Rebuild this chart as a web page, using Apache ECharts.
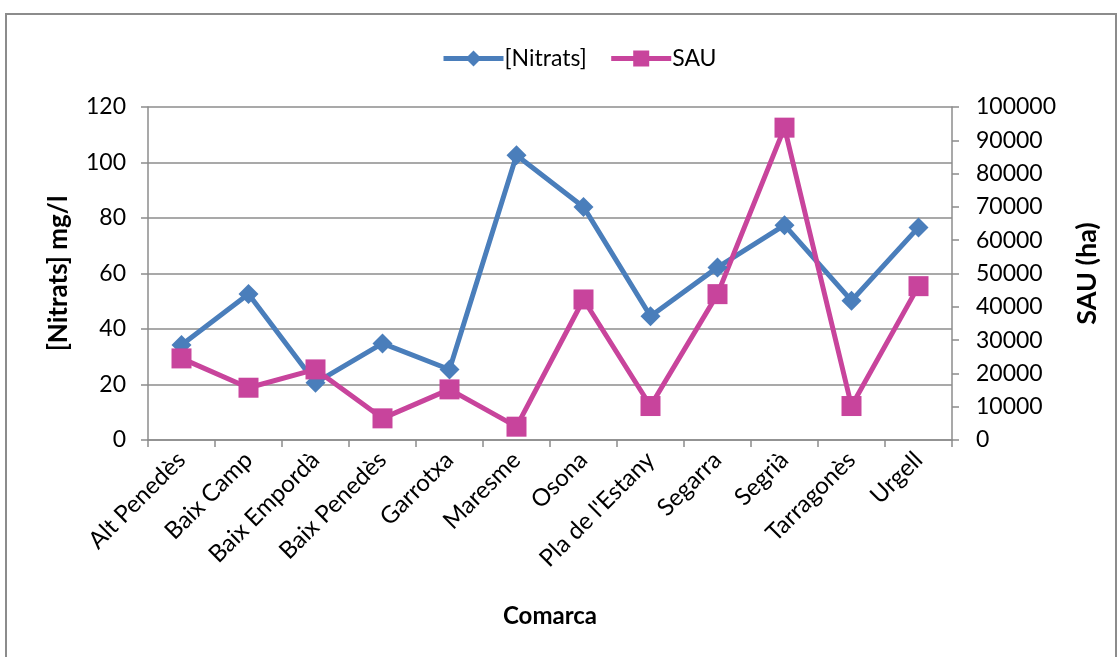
<!DOCTYPE html>
<html>
<head>
<meta charset="utf-8">
<script src="https://cdn.jsdelivr.net/npm/echarts@6/dist/echarts.min.js"></script>
<style>
html,body{margin:0;padding:0;background:#fff;}
#frame{position:absolute;left:5px;top:13px;width:1112px;height:650px;border:2px solid #8c8c8c;box-sizing:border-box;}
#chart{position:absolute;left:0;top:0;width:1119px;height:657px;}
</style>
</head>
<body>
<div id="frame"></div>
<div id="chart"></div>
<script>
const comarques = ['Alt Penedès','Baix Camp','Baix Empordà','Baix Penedès','Garrotxa','Maresme','Osona',"Pla de l'Estany",'Segarra','Segrià','Tarragonès','Urgell'];
const nitrats = [34.2, 52.6, 20.6, 34.8, 25.4, 102.6, 84.0, 44.6, 62.2, 77.4, 50.2, 76.6];
const sau = [24500, 15700, 21200, 6500, 15200, 4000, 42200, 10200, 43800, 93800, 10200, 46200];

const FONT = 'Lato';
const gray = '#8c8c8c';
const chart = echarts.init(document.getElementById('chart'), null, {renderer:'canvas'});
chart.setOption({
  backgroundColor: 'transparent',
  textStyle: {fontFamily: FONT},
  animation: false,
  legend: {
    top: 42, left: 436,
    itemWidth: 60, itemHeight: 20, itemGap: 22,
    lineStyle: {width: 5},
    textStyle: {fontFamily: FONT, fontSize: 23, color: '#000', padding: [0,0,0,-4]},
    data: ['[Nitrats]','SAU']
  },
  grid: {left: 148, right: 167, top: 107, bottom: 217, containLabel: false},
  xAxis: {
    type: 'category',
    data: comarques,
    boundaryGap: true,
    name: 'Comarca',
    nameLocation: 'middle',
    nameGap: 164,
    nameTextStyle: {fontFamily: FONT, fontSize: 24, fontWeight: 'bold', color: '#000'},
    axisLine: {lineStyle: {color: gray, width: 1.5}},
    axisTick: {show: true, length: 7, lineStyle: {color: gray, width: 1.5}},
    axisLabel: {rotate: 45, fontFamily: FONT, fontSize: 24, color: '#000', margin: 16}
  },
  yAxis: [
    {
      type: 'value', min: 0, max: 120, interval: 20, position: 'left',
      name: '[Nitrats] mg/l', nameLocation: 'middle', nameGap: 76, nameRotate: 90,
      nameTextStyle: {fontFamily: FONT, fontSize: 26, fontWeight: 'bold', color: '#000'},
      axisLine: {show: true, lineStyle: {color: gray, width: 1.5}},
      axisTick: {show: true, length: 7, lineStyle: {color: gray, width: 1.5}},
      axisLabel: {fontFamily: FONT, fontSize: 23, color: '#000', margin: 22},
      splitLine: {show: true, lineStyle: {color: gray, width: 1.5}}
    },
    {
      type: 'value', min: 0, max: 100000, interval: 10000, position: 'right',
      name: 'SAU (ha)', nameLocation: 'middle', nameGap: 122, nameRotate: 90,
      nameTextStyle: {fontFamily: FONT, fontSize: 27, fontWeight: 'bold', color: '#000'},
      axisLine: {show: true, lineStyle: {color: gray, width: 1.5}},
      axisTick: {show: true, length: 7, lineStyle: {color: gray, width: 1.5}},
      axisLabel: {fontFamily: FONT, fontSize: 23, color: '#000', margin: 24,
        formatter: v => String(v)},
      splitLine: {show: false}
    }
  ],
  series: [
    {
      name: '[Nitrats]', type: 'line', yAxisIndex: 0, data: nitrats,
      symbol: 'diamond', symbolSize: 20,
      lineStyle: {color: '#4a7ebb', width: 5},
      itemStyle: {color: '#4a7ebb'}
    },
    {
      name: 'SAU', type: 'line', yAxisIndex: 1, data: sau,
      symbol: 'rect', symbolSize: 20,
      lineStyle: {color: '#c8449c', width: 5},
      itemStyle: {color: '#c8449c'}
    }
  ]
});
</script>
</body>
</html>
